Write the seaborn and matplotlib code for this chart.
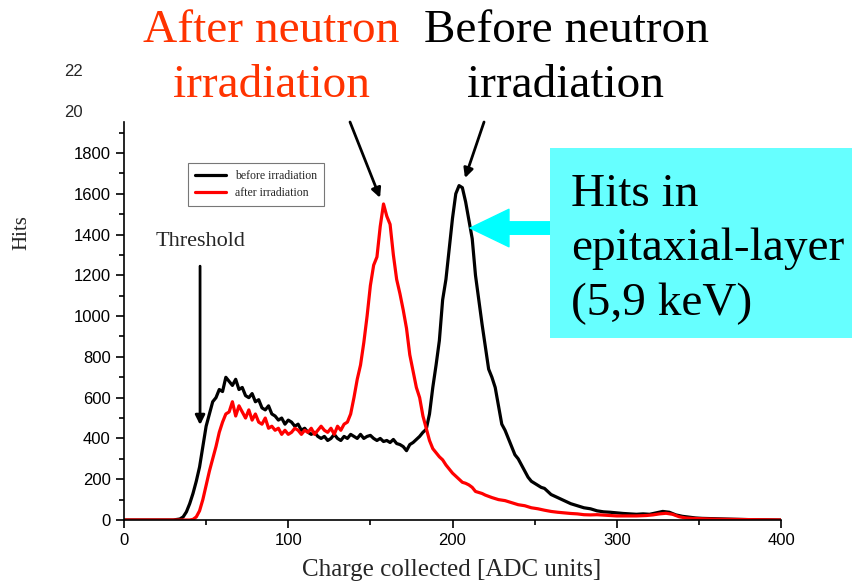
import matplotlib
matplotlib.use("Agg")
import matplotlib.pyplot as plt
import matplotlib.patches as mpatches
import seaborn as sns

# readings: ADC channel -> hits
before_x = [0, 30, 34, 36, 38, 40, 42, 44, 46, 48, 50, 52, 54, 56, 58, 60, 62, 64, 66, 68,
            70, 72, 74, 76, 78, 80, 82, 84, 86, 88, 90, 92, 94, 96, 98, 100, 102, 104, 106, 108,
            110, 112, 114, 116, 118, 120, 122, 124, 126, 128, 130, 132, 134, 136, 138, 140, 142, 144, 146, 148,
            150, 152, 154, 156, 158, 160, 162, 164, 166, 168, 170, 172, 174, 176, 178, 180, 182, 184, 186, 188,
            190, 192, 194, 196, 198, 200, 202, 204, 206, 208, 210, 212, 214, 216, 218, 220, 222, 224, 226, 228,
            230, 232, 234, 236, 238, 240, 242, 244, 246, 248, 250, 252, 254, 256, 258, 260, 264, 268, 272, 276,
            280, 284, 288, 292, 296, 300, 304, 308, 312, 316, 320, 324, 328, 330, 332, 336, 340, 344, 348, 352,
            360, 370, 380, 390, 400]
before_y = [0, 0, 5, 15, 40, 80, 130, 190, 260, 360, 460, 520, 580, 600, 640, 630, 700, 680, 660, 690,
            640, 650, 610, 600, 620, 580, 590, 550, 540, 560, 520, 510, 490, 500, 470, 490, 480, 460, 470, 440,
            450, 430, 420, 430, 410, 400, 410, 390, 400, 420, 400, 390, 410, 400, 420, 410, 400, 420, 400, 410,
            415, 400, 390, 400, 385, 390, 380, 395, 375, 370, 360, 340, 370, 380, 395, 410, 430, 445, 520, 650,
            760, 880, 1080, 1180, 1330, 1480, 1600, 1640, 1630, 1560, 1470, 1380, 1200, 1080, 960, 850, 740, 700, 650, 560,
            470, 440, 400, 360, 320, 300, 270, 240, 210, 190, 180, 170, 160, 155, 140, 125, 110, 95, 80, 70,
            60, 55, 45, 40, 38, 35, 32, 30, 28, 30, 28, 35, 42, 40, 38, 25, 18, 14, 10, 8,
            6, 4, 2, 1, 0]

after_x = [0, 40, 42, 44, 46, 48, 50, 52, 54, 56, 58, 60, 62, 64, 66, 68, 70, 72, 74, 76,
           78, 80, 82, 84, 86, 88, 90, 92, 94, 96, 98, 100, 102, 104, 106, 108, 110, 112, 114, 116,
           118, 120, 122, 124, 126, 128, 130, 132, 134, 136, 138, 140, 142, 144, 146, 148, 150, 152, 154, 156,
           158, 160, 162, 164, 166, 168, 170, 172, 174, 176, 178, 180, 182, 184, 186, 188, 190, 192, 194, 196,
           198, 200, 202, 204, 206, 208, 210, 212, 214, 216, 218, 220, 224, 228, 232, 236, 240, 244, 248, 252,
           256, 260, 264, 268, 272, 276, 280, 284, 288, 292, 296, 300, 306, 312, 318, 322, 326, 330, 334, 338,
           342, 346, 352, 360, 370, 380, 400]
after_y = [0, 0, 3, 15, 45, 100, 170, 240, 300, 360, 430, 480, 520, 530, 580, 510, 560, 530, 500, 540,
           490, 520, 480, 470, 500, 450, 460, 440, 450, 420, 440, 420, 430, 450, 440, 420, 440, 430, 450, 420,
           440, 460, 440, 430, 450, 420, 460, 440, 470, 480, 520, 600, 690, 760, 870, 1000, 1150, 1250, 1290, 1440,
           1550, 1490, 1450, 1300, 1180, 1110, 1030, 940, 810, 730, 650, 600, 510, 450, 390, 350, 330, 310, 295, 270,
           250, 230, 215, 200, 185, 180, 172, 160, 140, 135, 130, 122, 110, 100, 95, 85, 75, 70, 60, 55,
           48, 42, 38, 35, 32, 30, 26, 25, 26, 24, 22, 20, 20, 20, 22, 25, 30, 33, 28, 16,
           10, 8, 6, 4, 3, 2, 0]

x_ticks = [0, 100, 200, 300, 400]
y_ticks = [0, 200, 400, 600, 800, 1000, 1200, 1400, 1600, 1800]

W, H = 852, 584


def fig_xy(px, py):
    # picture pixels (top-left origin) -> figure fraction
    return px / W, 1 - py / H


sns.set_style("ticks")
plt.rcParams['font.family'] = ['Liberation Sans', 'DejaVu Sans']
serif = ['Liberation Serif', 'DejaVu Serif']

fig = plt.figure(figsize=(8.52, 5.84), dpi=100)
ax = fig.add_axes([124 / W, 1 - 520 / H, 657 / W, 398 / H])

sns.lineplot(x=before_x, y=before_y, color='black', linewidth=2.3, ax=ax,
             label='before irradiation', sort=False)
sns.lineplot(x=after_x, y=after_y, color='#ff0000', linewidth=2.3, ax=ax,
             label='after irradiation', sort=False)

ax.set_xlim(0, 400)
ax.set_ylim(0, 1952)
ax.set_xticks(x_ticks)
ax.set_yticks(y_ticks)
ax.set_xticks([50, 150, 250, 350], minor=True)
ax.set_yticks([v + 100 for v in y_ticks], minor=True)
ax.tick_params(axis='both', which='major', direction='out', length=6, width=1.2,
               labelsize=12, color='black', labelcolor='black')
ax.tick_params(axis='both', which='minor', direction='out', length=3.5, width=1.2, color='black')
sns.despine(ax=ax)
for s in ('left', 'bottom'):
    ax.spines[s].set_linewidth(1.2)
    ax.spines[s].set_color('black')
ax.set_xlabel('')
ax.set_ylabel('')

# the two clipped labels above the axis top
for val, txt in [(2000, '20'), (2200, '22')]:
    ax.annotate(txt, xy=(0, val), xycoords=('axes fraction', 'data'),
                xytext=(64, 0), textcoords=('figure pixels', 'offset points'),
                ha='left', va='center', fontsize=12, annotation_clip=False)

leg = ax.legend(loc='upper left', bbox_to_anchor=(64 / 657, 357 / 398), borderaxespad=0,
                prop={'family': serif, 'size': 8.5}, frameon=True, fancybox=False,
                handlelength=2.6, borderpad=0.6, labelspacing=0.45)
leg.get_frame().set_edgecolor('#555555')
leg.get_frame().set_linewidth(0.8)

fig.text(*fig_xy(452, 570), 'Charge collected [ADC units]', ha='center', va='center',
         fontsize=18, family=serif)
fig.text(*fig_xy(22, 233), 'Hits', ha='center', va='center', rotation=90,
         fontsize=15, family=serif)

# headline texts
fig.text(*fig_xy(271, 58), 'After neutron\nirradiation', ha='center', va='center',
         fontsize=34, family=serif, color='#ff3300', linespacing=1.37)
fig.text(*fig_xy(566, 58), 'Before neutron\nirradiation', ha='center', va='center',
         fontsize=34, family=serif, color='black', linespacing=1.37)

# arrows to the peaks
arrow_kw = dict(arrowstyle='-|>', color='black', lw=2, mutation_scale=14, shrinkA=0, shrinkB=0)
ax.annotate('', xy=(155.9, 1580), xytext=(137.6, 1952), arrowprops=arrow_kw, annotation_clip=False)
ax.annotate('', xy=(207.6, 1677), xytext=(219.2, 1952), arrowprops=arrow_kw, annotation_clip=False)

# threshold marker
ax.annotate('', xy=(46.3, 466), xytext=(46.3, 1245), arrowprops=arrow_kw)
ax.text(46.3, 1365, 'Threshold', ha='center', va='center', fontsize=16, family=serif)

# cyan box with text and arrow
x0, y0 = fig_xy(550, 338)
fig.patches.append(mpatches.Rectangle((x0, y0), 1 - x0, 190 / H, transform=fig.transFigure,
                                      facecolor='#66ffff', edgecolor='none', zorder=1))
fig.text(*fig_xy(571, 249), 'Hits in\nepitaxial-layer\n(5,9 keV)', ha='left', va='center',
         fontsize=34, family=serif, color='black', linespacing=1.37, zorder=3)
ax.annotate('', xy=(210.7, 1432), xytext=(259.4, 1432), annotation_clip=False,
            arrowprops=dict(arrowstyle='simple,head_length=1.4,head_width=1.35,tail_width=0.45',
                            color='#00ffff', mutation_scale=20, shrinkA=0, shrinkB=0))

fig.savefig('out.png', dpi=100)
